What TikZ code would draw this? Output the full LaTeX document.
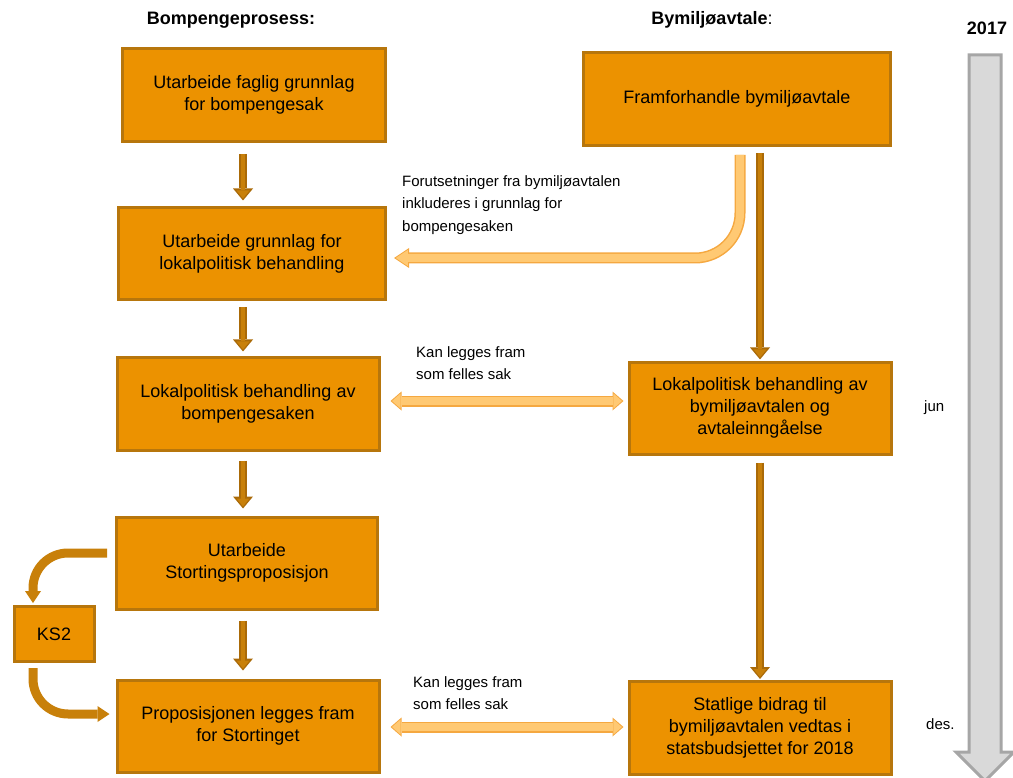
\documentclass[tikz,border=0pt]{standalone}
\usepackage{fontspec}
\setmainfont{Liberation Sans}
\usetikzlibrary{arrows.meta,calc}
\definecolor{boxfill}{RGB}{236,146,0}
\definecolor{boxedge}{RGB}{183,118,12}
\definecolor{darkfill}{RGB}{200,128,10}
\definecolor{darkedge}{RGB}{170,106,8}
\definecolor{lightfill}{RGB}{255,201,115}
\definecolor{lightedge}{RGB}{245,168,64}
\definecolor{timefill}{RGB}{217,217,217}
\definecolor{timeedge}{RGB}{166,166,166}
\tikzset{
  box/.style={draw=boxedge,fill=boxfill,line width=3pt,align=center,inner sep=0pt,
    font=\fontsize{18}{22}\selectfont},
  head/.style={font=\fontsize{18}{22}\selectfont\bfseries},
  note/.style={align=left,inner sep=0pt,font=\fontsize{15}{22.5}\selectfont},
  darkarrow/.style={draw=darkedge,line width=8pt,-{Triangle[length=12pt,width=20pt,line width=0pt]},
    postaction={draw=darkfill,line width=4pt,-{Triangle[length=8pt,width=13pt,line width=0pt]},shorten >=2pt}},
  ksarrow/.style={draw=darkfill,line width=9pt,rounded corners=35pt,
    -{Triangle[length=12pt,width=16pt,line width=0pt]}},
  lightarrow/.style={draw=lightedge,line width=11pt,-{Triangle[length=15pt,width=20pt,line width=0pt]},
    postaction={draw=lightfill,line width=8pt,-{Triangle[length=12pt,width=16pt,line width=0pt]},shorten >=1.8pt}},
  lightboth/.style={draw=lightedge,line width=11pt,
    {Triangle[length=11pt,width=19pt,line width=0pt]}-{Triangle[length=11pt,width=19pt,line width=0pt]},
    postaction={draw=lightfill,line width=8pt,
      {Triangle[length=8.5pt,width=15pt,line width=0pt]}-{Triangle[length=8.5pt,width=15pt,line width=0pt]},
      shorten >=1.6pt,shorten <=1.6pt}}
}
\begin{document}
\begin{tikzpicture}[x=1pt,y=-1pt]% pixel coordinates, y downwards
\useasboundingbox (0,0) rectangle (1013,778);
% timeline
\filldraw[fill=timefill,draw=timeedge,line width=3pt,line join=miter]
  (969,55) -- (1001,55) -- (1001,752) -- (1014,752) -- (985,781) -- (956,752) -- (969,752) -- cycle;
\node[head] (year) at (987,28) {2017};
\node[head] (hleft) at (231,20) {Bompengeprosess:};
\node[head] (hright) at (712,20) {Bymiljøavtale\textmd{:}};

% left column
\node[box,minimum width=263,minimum height=93] (b1) at (254,95) {Utarbeide faglig grunnlag\\for bompengesak};
\node[box,minimum width=267,minimum height=92] (b2) at (252,254) {Utarbeide grunnlag for\\lokalpolitisk behandling};
\node[box,minimum width=262,minimum height=92] (b3) at (248,404) {Lokalpolitisk behandling av\\bompengesaken};
\node[box,minimum width=261,minimum height=92] (b4) at (247,563) {Utarbeide\\Stortingsproposisjon};
\node[box,minimum width=262,minimum height=92] (b5) at (248,726) {Proposisjonen legges fram\\for Stortinget};
\node[box,minimum width=80,minimum height=55] (ks) at (54,634) {KS2};

% right column
\node[box,minimum width=307,minimum height=93] (r1) at (737,99) {Framforhandle bymiljøavtale};
\node[box,minimum width=262,minimum height=92] (r2) at (760,408) {Lokalpolitisk behandling av\\bymiljøavtalen og\\avtaleinngåelse};
\node[box,minimum width=262,minimum height=93] (r3) at (760,728) {Statlige bidrag til\\bymiljøavtalen vedtas i\\statsbudsjettet for 2018};

\node[note,anchor=west] (jun) at (924,408) {jun};
\node[note,anchor=west] (des) at (926,724) {des.};

\coordinate (colL) at (243,0);
\draw[darkarrow] ($(b1.south -| colL)+(0,11)$) -- ($(b2.north -| colL)+(0,-6)$);
\draw[darkarrow] ($(b2.south -| colL)+(0,6)$) -- ($(b3.north -| colL)+(0,-5)$);
\draw[darkarrow] ($(b3.south -| colL)+(0,9)$) -- ($(b4.north -| colL)+(0,-7)$);
\draw[darkarrow] ($(b4.south -| colL)+(0,10)$) -- ($(b5.north -| colL)+(0,-8)$);
\draw[darkarrow] ($(r1.south -| r2.north)+(0,6)$) -- ($(r2.north)+(0,-1)$);
\draw[darkarrow] ($(r2.south)+(0,7)$) -- ($(r3.north)+(0,-1)$);

\draw[ksarrow] ($(b4.west)+(-8,-10)$) -| ($(ks.north)+(-21,-2)$);
\draw[ksarrow] ($(ks.south)+(-21,5)$) |- ($(b5.west)+(-6,-12)$);

\draw[lightarrow,rounded corners=45pt] ($(r1.south)+(3,8)$) |- ($(b2.east)+(7,4)$);
\node[note,anchor=north west] (req) at (402,175) {Forutsetninger fra bymiljøavtalen\\inkluderes i grunnlag for\\bompengesaken};

\draw[lightboth] ($(b3.east)+(10,-3)$) -- ($(b3.east -| r2.west)+(-4,-3)$);
\node[note,anchor=north west] (felles1) at (416,346) {Kan legges fram\\som felles sak};
\draw[lightboth] ($(b5.east)+(10,1)$) -- ($(b5.east -| r3.west)+(-4,1)$);
\node[note,anchor=north west] (felles2) at (413,676) {Kan legges fram\\som felles sak};
\end{tikzpicture}
\end{document}
